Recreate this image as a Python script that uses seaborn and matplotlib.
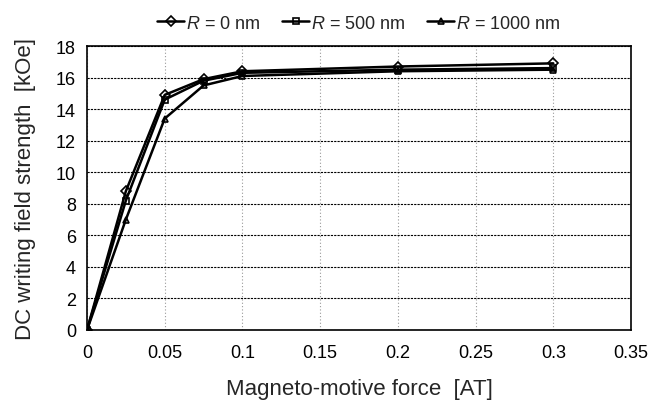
import matplotlib
matplotlib.use("Agg")
import matplotlib.pyplot as plt
import seaborn as sns
import pandas as pd

mmf = [0, 0.025, 0.05, 0.075, 0.1, 0.2, 0.3]
r0 = [0, 8.8, 14.9, 15.9, 16.4, 16.7, 16.9]
r500 = [0, 8.2, 14.6, 15.8, 16.3, 16.5, 16.6]
r1000 = [0, 7.0, 13.4, 15.5, 16.1, 16.4, 16.5]
labels = ["$\\it{R}$ = 0 nm", "$\\it{R}$ = 500 nm", "$\\it{R}$ = 1000 nm"]
xticks = [0, 0.05, 0.1, 0.15, 0.2, 0.25, 0.3, 0.35]
xticklabels = ["0", "0.05", "0.1", "0.15", "0.2", "0.25", "0.3", "0.35"]
yticks = list(range(0, 19, 2))

sns.set_theme(style="white")
plt.rcParams['font.family'] = ['Liberation Sans', 'DejaVu Sans']
plt.rcParams['mathtext.fontset'] = 'custom'
plt.rcParams['mathtext.it'] = 'Liberation Sans:italic'
plt.rcParams['mathtext.rm'] = 'Liberation Sans'

df = pd.DataFrame({
    "x": mmf * 3,
    "y": r0 + r500 + r1000,
    "s": [labels[0]] * 7 + [labels[1]] * 7 + [labels[2]] * 7,
})

fig = plt.figure(figsize=(6.48, 4.02), dpi=100)
ax = fig.add_axes([87/648, (402-331)/402, (631-87)/648, (331-47)/402])

markers = {labels[0]: "D", labels[1]: "s", labels[2]: "^"}
sns.lineplot(data=df, x="x", y="y", hue="s", style="s",
             palette=["black"] * 3, markers=markers, dashes=False,
             markersize=5, markerfacecolor="none", markeredgecolor="black",
             markeredgewidth=1.2, linewidth=1.8, ax=ax, legend=True)

ax.set_xlim(0, 0.35)
ax.set_ylim(0, 18)
ax.set_xticks(xticks)
ax.set_xticklabels(xticklabels, fontsize=13)
ax.set_yticks(yticks)
ax.set_yticklabels([str(v) for v in yticks], fontsize=13)
ax.yaxis.grid(True, color="black", linestyle=(0, (2, 1)), linewidth=0.8)
ax.xaxis.grid(True, color="#999999", linestyle=(0, (1, 2)), linewidth=0.8)
for s in ax.spines.values():
    s.set_color("black")
    s.set_linewidth(1.2)
ax.tick_params(axis="x", length=0, pad=10, colors="black")
ax.tick_params(axis="y", length=0, pad=8, colors="black")
ax.set_xlabel("Magneto-motive force  [AT]", fontsize=16, labelpad=12)
ax.set_ylabel("DC writing field strength  [kOe]", fontsize=16, labelpad=14)

h, l = ax.get_legend_handles_labels()
ax.legend(h, l, loc="lower center", bbox_to_anchor=(0.5, 1.0), ncol=3,
          frameon=False, fontsize=13, handlelength=1.5, handletextpad=0.1,
          columnspacing=1.2, borderaxespad=0.4)

fig.savefig("out.png", dpi=100)
